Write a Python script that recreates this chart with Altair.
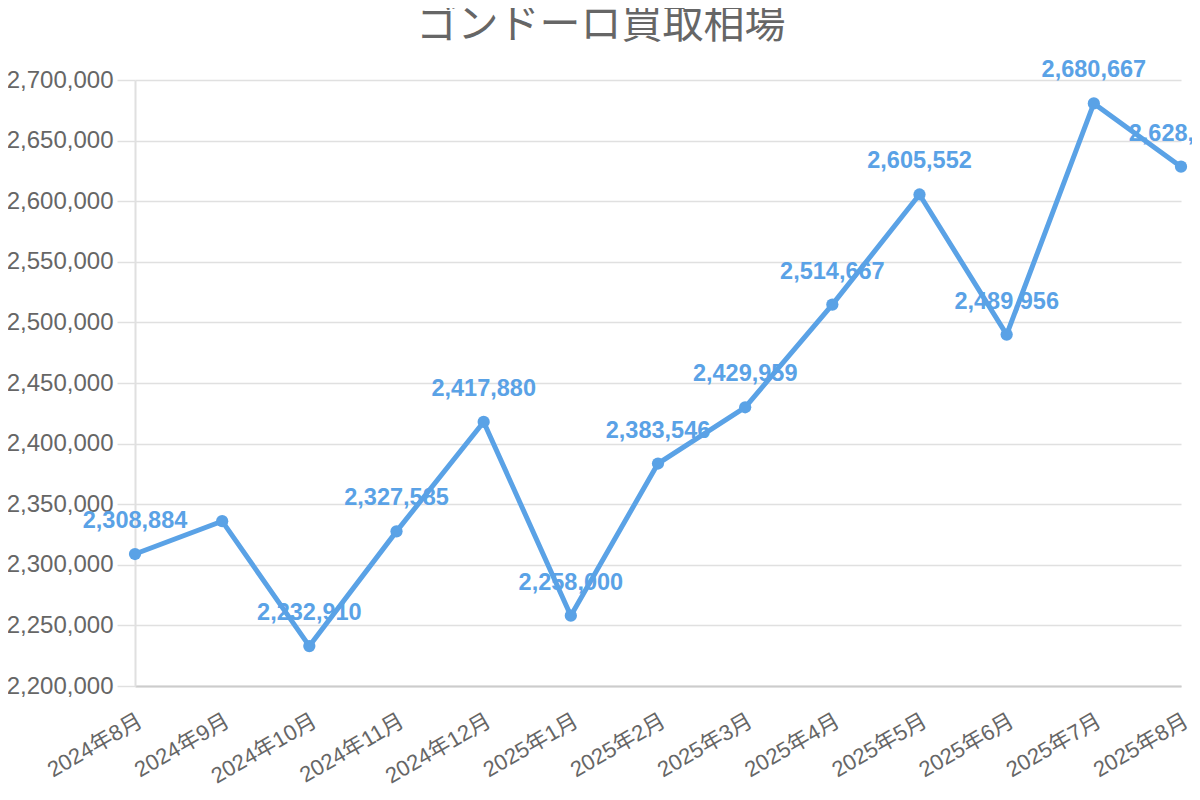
import altair as alt
import pandas as pd

months = ["2024年8月", "2024年9月", "2024年10月", "2024年11月", "2024年12月", "2025年1月",
          "2025年2月", "2025年3月", "2025年4月", "2025年5月", "2025年6月", "2025年7月", "2025年8月"]
prices = [2308884, 2336000, 2232910, 2327585, 2417880, 2258000,
          2383546, 2429959, 2514667, 2605552, 2489956, 2680667, 2628500]
labels = ["2,308,884", "", "2,232,910", "2,327,585", "2,417,880", "2,258,000",
          "2,383,546", "2,429,959", "2,514,667", "2,605,552", "2,489,956", "2,680,667", "2,628,500"]
y_ticks = [2200000, 2250000, 2300000, 2350000, 2400000, 2450000,
           2500000, 2550000, 2600000, 2650000, 2700000]

df = pd.DataFrame({"month": months, "price": prices, "label": labels})

BLUE = "#5aa2e6"
FONT = "Liberation Sans, Noto Sans CJK JP"

x = alt.X("month:N", sort=months, title=None,
          scale=alt.Scale(type="point", padding=0),
          axis=alt.Axis(labelAngle=-30, labelAlign="right", labelBaseline="top",
                        labelFontSize=22, labelColor="#666", labelFont=FONT,
                        labelPadding=24, ticks=False, grid=False,
                        domainColor="#cccccc", domainWidth=2, labelOverlap=False))
y = alt.Y("price:Q", title=None,
          scale=alt.Scale(domain=[2200000, 2700000], nice=False, zero=False),
          axis=alt.Axis(values=y_ticks, labelExpr="format(datum.value, ',')",
                        labelFontSize=24, labelColor="#666", labelFont=FONT,
                        tickSize=18, tickColor="#e0e0e0", tickWidth=1.5,
                        gridColor="#e0e0e0", gridWidth=1.5,
                        domainColor="#e0e0e0", domainWidth=2, labelPadding=4))

base = alt.Chart(df).encode(x=x, y=y)

line = base.mark_line(color=BLUE, strokeWidth=5)
pts = base.mark_circle(color=BLUE, size=150, opacity=1)
txt = base.mark_text(color=BLUE, fontSize=23.5, fontWeight="bold", font=FONT, dy=-33).encode(text="label:N")

chart = alt.layer(line, pts, txt).properties(
    width=1046, height=606,
    title=alt.TitleParams("ゴンドーロ買取相場", fontSize=41, fontWeight="normal", color="#666",
                          font="Noto Sans CJK JP", anchor="middle", dx=-57, offset=11),
    autosize=alt.AutoSizeParams(type="none"),
    padding={"left": 127, "top": 72, "right": 11, "bottom": 106},
).configure_view(stroke=None)

chart.save("out.html", embed_options={"renderer": "svg", "actions": False})
